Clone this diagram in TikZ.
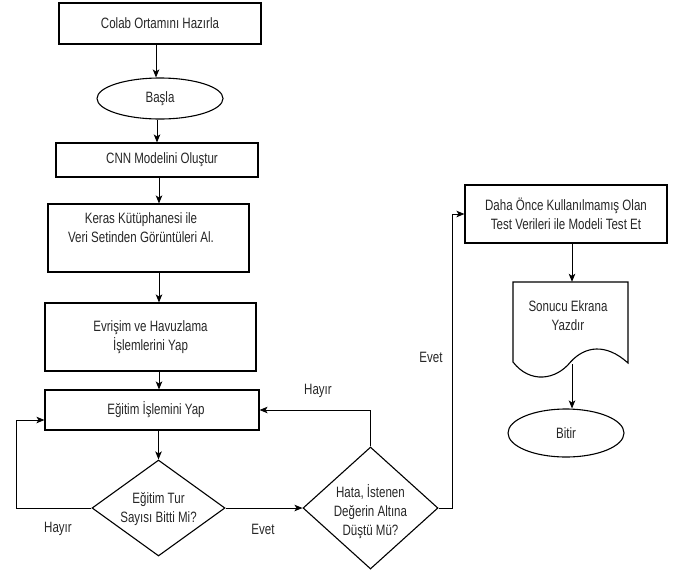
\documentclass[tikz,border=0pt]{standalone}
\usepackage{fontspec}
\setmainfont{Liberation Sans}[FakeStretch=0.77]
\usetikzlibrary{shapes.geometric,arrows.meta}
\tikzset{
  every node/.style={font=\fontsize{15}{19}\selectfont, text=black!85, align=center, inner sep=0pt},
  boxn/.style={draw, rectangle, line width=1.1pt},
  elln/.style={draw, ellipse, line width=1.1pt},
  diam/.style={draw, diamond, line width=1.1pt},
  lbl/.style={},
  arr/.style={line width=0.9pt, -{Stealth[length=8pt,width=6.5pt,inset=2pt]}},
  ln/.style={line width=0.9pt}
}
\begin{document}
\begin{tikzpicture}[x=1pt,y=-1pt]
\useasboundingbox (0,0) rectangle (679,571);
% nodes
\node[boxn, minimum width=202pt, minimum height=41pt] (box1) at (160,23.5) {Colab Ortamını Hazırla};
\node[elln, minimum width=126pt, minimum height=41pt] (ell1) at (160,98.5) {Başla};
\node[boxn, minimum width=202pt, minimum height=34pt] (box2) at (157,160) {\hspace*{10pt}CNN Modelini Oluştur};
\node[boxn, minimum width=201pt, minimum height=68pt] (box3) at (148.5,238) {};
\node (box3t) at (141,228) {Keras Kütüphanesi ile\\Veri Setinden Görüntüleri Al.};
\node[boxn, minimum width=211pt, minimum height=68pt] (box4) at (150.5,337) {Evrişim ve Havuzlama\\İşlemlerini Yap};
\node[boxn, minimum width=214pt, minimum height=40pt] (box5) at (152,410) {\hspace*{8pt}Eğitim İşlemini Yap};
\node[diam, minimum width=133pt, minimum height=96pt, aspect=1.385] (d1) at (158.5,508) {};
\node (d1t) at (158.5,509) {Eğitim Tur\\Sayısı Bitti Mi?};
\node[diam, minimum width=135pt, minimum height=122pt, aspect=1.107] (d2) at (370.5,508) {};
\node (d2t) at (370.5,512) {Hata, İstenen\\Değerin Altına\\Düştü Mü?};
\node[boxn, minimum width=202pt, minimum height=58pt] (box6) at (566,214) {Daha Önce Kullanılmamış Olan\\Test Verileri ile Modeli Test Et};
\node[minimum width=115pt, minimum height=82pt] (doc) at (570.5,323) {};
\draw[line width=1.1pt] (513,282) -- (628,282) -- (628,363)
  .. controls (606,343) and (585,346) .. (570.5,362)
  .. controls (556,380) and (530,384) .. (513,362) -- cycle;
\node (doct) at (568,316) {Sonucu Ekrana\\Yazdır};
\node[elln, minimum width=116pt, minimum height=48pt] (ell2) at (566,433) {Bitir};
% labels
\node[lbl] (l1) at (58,529) {Hayır};
\node[lbl] (l2) at (263,529) {Evet};
\node[lbl] (l3) at (318,391) {Hayır};
\node[lbl] (l4) at (431,357) {Evet};
% coordinates
\coordinate (c1) at (156,0);
\coordinate (c2) at (157,0);
\coordinate (c3) at (159,0);
\coordinate (lp1) at (16,420);
\coordinate (lp3) at (452,0);
\coordinate (dx) at (572,0);
% connectors
\draw[arr] (box1.south -| c1) -- (ell1.north -| c1);
\draw[arr] (ell1.south -| c2) -- (box2.north -| c2);
\draw[arr] (box2.south -| c3) -- (box3.north -| c3);
\draw[arr] (box3.south -| c3) -- (box4.north -| c3);
\draw[arr] (box4.south -| c3) -- (box5.north -| c3);
\draw[arr] (box5.south -| d1.north) -- (d1.north);
\draw[arr] (d1.west) -| (lp1) -- (lp1 -| box5.west);
\draw[arr] (d1.east) -- (d2.west);
\draw[arr] (d2.north) |- (box5.east);
\draw[arr] (d2.east) -- (d2.east -| lp3) |- (box6.west);
\draw[arr] (box6.south -| dx) -- (doc.north -| dx);
\draw[arr] (doc.south -| dx) -- (ell2.north -| dx);
\end{tikzpicture}
\end{document}
